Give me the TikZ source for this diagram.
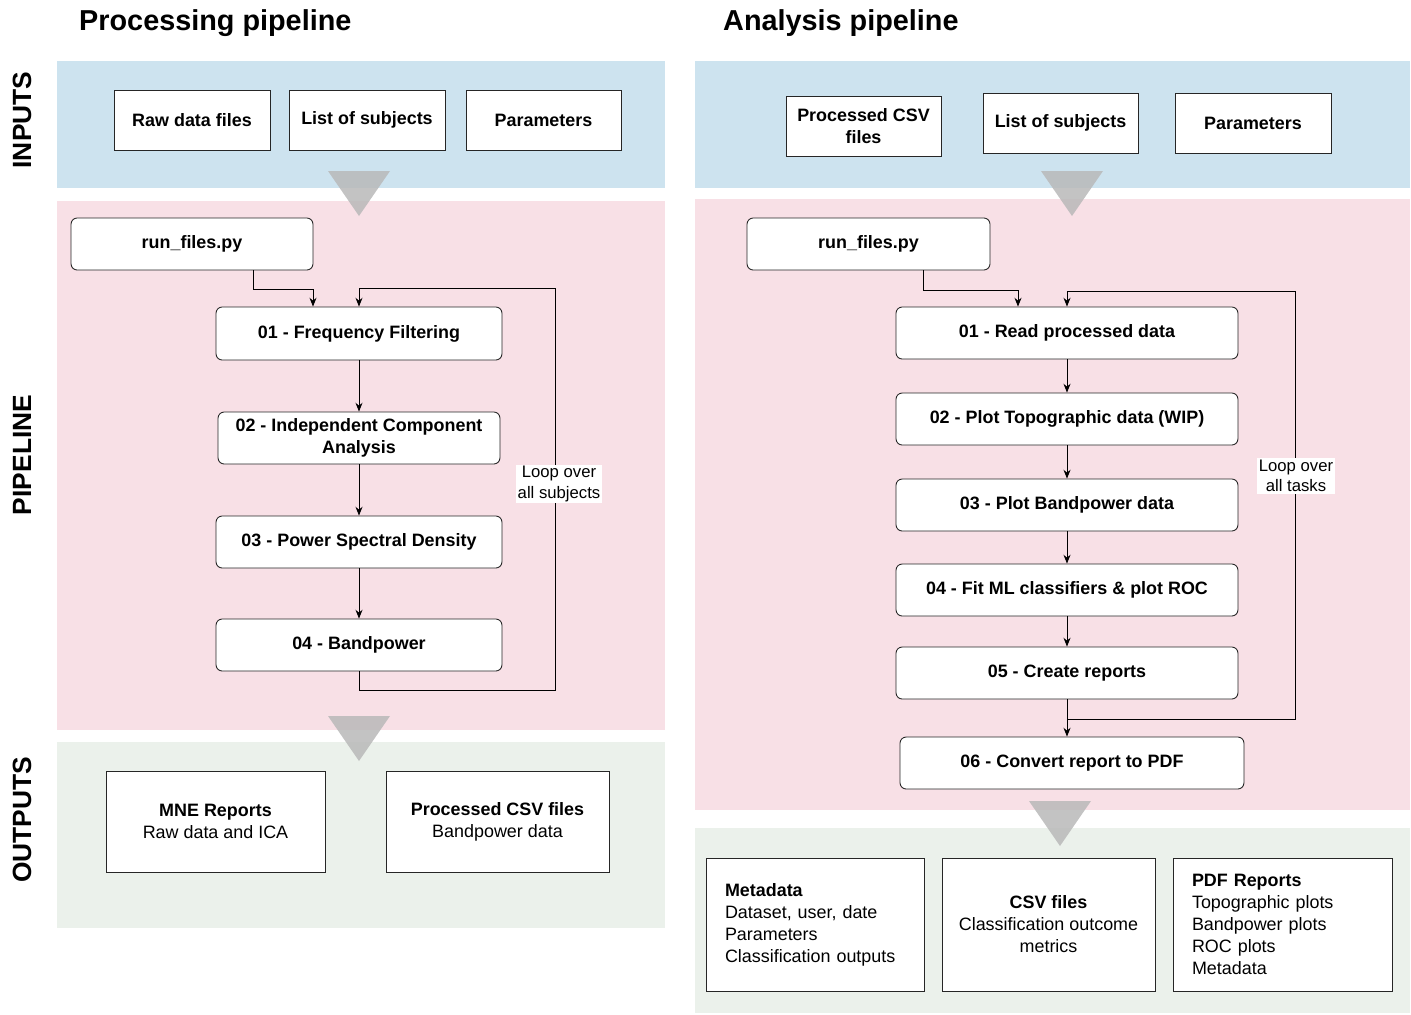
\documentclass[tikz,border=0pt]{standalone}
\usepackage{fontspec}
\setmainfont{Liberation Sans}
\usepackage{tikz}
\usetikzlibrary{arrows.meta,positioning,calc}
\definecolor{inblue}{RGB}{205,227,239}
\definecolor{pipepink}{RGB}{248,224,230}
\definecolor{outgreen}{RGB}{235,241,235}
\definecolor{funnelgray}{RGB}{185,185,185}

\begin{document}
\begin{tikzpicture}[x=0.02cm,y=-0.02cm,
    filebox/.style={draw=black!85,fill=white,line width=0.5pt,minimum height=1.2cm,font=\fontsize{10.2}{12.5}\selectfont\bfseries,align=center,inner sep=2pt},
    stepbox/.style={draw=black!85,fill=white,rounded corners=3.5pt,line width=0.5pt,minimum height=1.04cm,font=\fontsize{10.2}{12.5}\selectfont\bfseries,align=center,inner sep=2pt},
    outbox/.style={draw=black!85,fill=white,line width=0.5pt,font=\fontsize{10.2}{12.5}\selectfont,align=center,inner sep=2pt},
    flow/.style={-{Stealth[length=5pt,width=4pt]},line width=0.5pt},
    looplabel/.style={fill=white,inner sep=1pt,font=\fontsize{9.5}{11.5}\selectfont,align=center},
    funnel/.style={fill=funnelgray,fill opacity=0.85},
    title/.style={font=\fontsize{16.4}{19}\selectfont\bfseries,anchor=west},
    sidelabel/.style={font=\fontsize{15}{18}\selectfont\bfseries,rotate=90}]
    \useasboundingbox (0,0) rectangle (1411,1015);

    % Bands
    \fill[inblue] (57,61) rectangle (665,188);
    \fill[pipepink] (57,201) rectangle (665,730);
    \fill[outgreen] (57,742) rectangle (665,928);
    \fill[inblue] (695,61) rectangle (1410,188);
    \fill[pipepink] (695,199) rectangle (1410,810);
    \fill[outgreen] (695,828) rectangle (1410,1013);

    % Funnels between bands
    \fill[funnel] (328,171) -- (390,171) -- (359,216) -- cycle;
    \fill[funnel] (328,716) -- (390,716) -- (359,761) -- cycle;
    \fill[funnel] (1041,171) -- (1103,171) -- (1072,216) -- cycle;
    \fill[funnel] (1029,801) -- (1091,801) -- (1060,846) -- cycle;

    % Titles and side labels
    \node[title] (ptitle) at (73,23) {Processing pipeline};
    \node[title] (atitle) at (717,23) {Analysis pipeline};
    \node[sidelabel] (inlab) at (22,120) {INPUTS};
    \node[sidelabel] (pipelab) at (22,455) {PIPELINE};
    \node[sidelabel] (outlab) at (22,820) {OUTPUTS};

    % Processing: inputs
    \node[filebox,minimum width=3.12cm] (lraw) at (192,120) {Raw data files};
    \node[filebox,minimum width=3.12cm] (lsubj) at (367,120) {List of subjects};
    \node[filebox,minimum width=3.1cm] (lpar) at (543.5,120) {Parameters};

    % Processing: pipeline
    \node[stepbox,minimum width=4.84cm] (lrun) at (192,244) {run\_files.py};
    \node[stepbox,minimum width=5.72cm,minimum height=1.06cm] (lfilt) at (359,333.5) {01 - Frequency Filtering};
    \node[stepbox,minimum width=5.64cm] (lica) at (359,438) {02 - Independent Component\\Analysis};
    \node[stepbox,minimum width=5.72cm] (lpsd) at (359,542) {03 - Power Spectral Density};
    \node[stepbox,minimum width=5.72cm] (lband) at (359,645) {04 - Bandpower};

    \draw[flow] ($(lrun.south)+(61,0)$) -- ++(0,19) -| ($(lfilt.north)+(-46,0)$);
    \draw[flow] (lfilt) -- (lica);
    \draw[flow] (lica) -- (lpsd);
    \draw[flow] (lpsd) -- (lband);
    \coordinate (lloop) at (555,288);
    \draw[flow] (lband.south) -- ++(0,19) -| (lloop) -| (lfilt.north);
    \node[looplabel] (lloopl) at (559,484) {Loop over\\all subjects};

    % Processing: outputs
    \node[outbox,minimum width=4.38cm,minimum height=2.02cm] (mne) at (215.5,821.5) {\textbf{MNE Reports}\\Raw data and ICA};
    \node[outbox,minimum width=4.46cm,minimum height=2.02cm] (lcsvout) at (497.5,821.5) {\textbf{Processed CSV files}\\Bandpower data};

    % Analysis: inputs
    \node[filebox,minimum width=3.1cm] (rcsv) at (863.5,126) {Processed CSV\\files};
    \node[filebox,minimum width=3.1cm] (rsubj) at (1060.5,123) {List of subjects};
    \node[filebox,minimum width=3.12cm] (rpar) at (1253,123.5) {Parameters};

    % Analysis: pipeline
    \node[stepbox,minimum width=4.86cm] (rrun) at (868.5,244) {run\_files.py};
    \node[stepbox,minimum width=6.84cm] (rread) at (1067,333) {01 - Read processed data};
    \node[stepbox,minimum width=6.84cm] (rtopo) at (1067,419) {02 - Plot Topographic data (WIP)};
    \node[stepbox,minimum width=6.84cm] (rbp) at (1067,505) {03 - Plot Bandpower data};
    \node[stepbox,minimum width=6.84cm] (rml) at (1067,590) {04 - Fit ML classifiers \& plot ROC};
    \node[stepbox,minimum width=6.84cm] (rrep) at (1067,673) {05 - Create reports};
    \node[stepbox,minimum width=6.88cm] (rpdf) at (1072,763) {06 - Convert report to PDF};

    \draw[flow] ($(rrun.south)+(54.5,0)$) -- ++(0,20) -| ($(rread.north)+(-49,0)$);
    \draw[flow] (rread) -- (rtopo);
    \draw[flow] (rtopo) -- (rbp);
    \draw[flow] (rbp) -- (rml);
    \draw[flow] (rml) -- (rrep);
    \draw[flow] (rrep.south) -- (rrep.south |- rpdf.north);
    \coordinate (rloop) at (1295,291);
    \draw[flow] ($(rrep.south)+(0,20)$) -| (rloop) -| (rread.north);
    \node[looplabel] (rloopl) at (1296,476) {Loop over\\all tasks};

    % Analysis: outputs
    \node[outbox,text width=3.6cm,inner xsep=0.38cm,minimum height=2.66cm,align=left] (meta) at (815,924.5) {\textbf{Metadata}\\Dataset, user, date\\Parameters\\Classification outputs};
    \node[outbox,minimum width=4.26cm,minimum height=2.66cm] (rcsvout) at (1048.5,924.5) {\textbf{CSV files}\\Classification outcome\\metrics};
    \node[outbox,text width=3.62cm,inner xsep=0.38cm,minimum height=2.66cm,align=left] (pdfout) at (1282.5,924.5) {\textbf{PDF Reports}\\Topographic plots\\Bandpower plots\\ROC plots\\Metadata};
\end{tikzpicture}
\end{document}
